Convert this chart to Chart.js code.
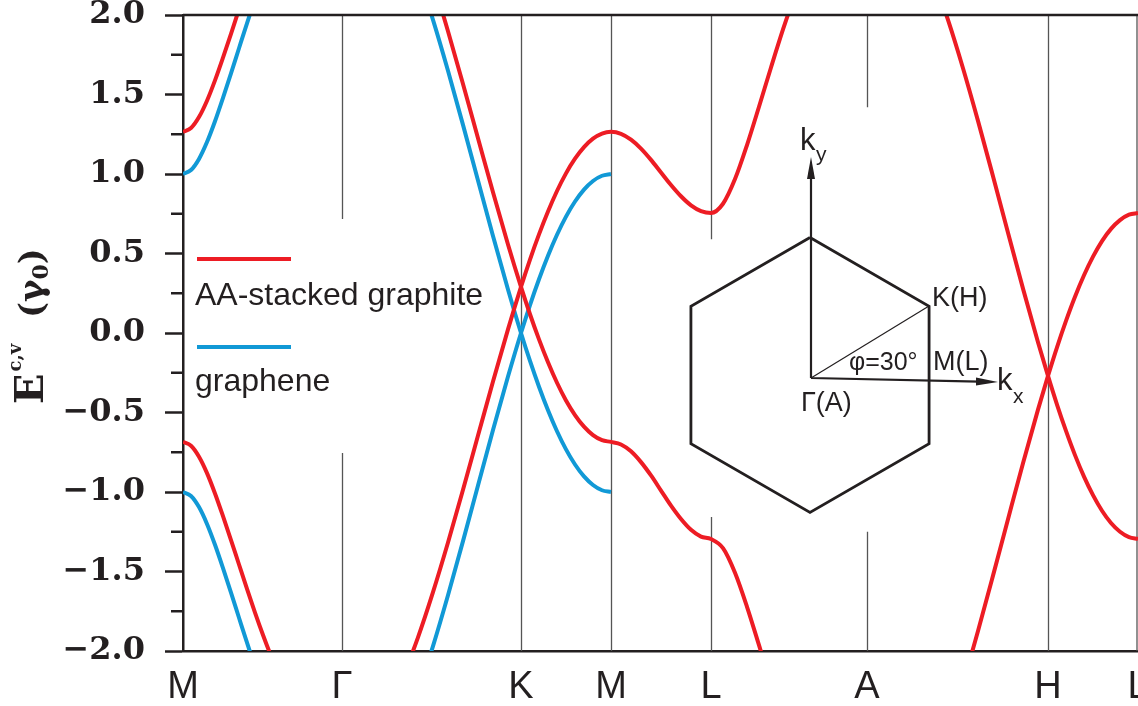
<!DOCTYPE html>
<html>
<head>
<meta charset="utf-8">
<script src="https://cdn.jsdelivr.net/npm/chart.js@4.4.0/dist/chart.umd.min.js"></script>
<style>
  html, body { margin: 0; padding: 0; background: #fff; }
  #wrap { width: 1138px; height: 706px; position: relative; }
</style>
</head>
<body>
<div id="wrap"><canvas id="bands"></canvas></div>
<script>
// high symmetry points along the path (x in path units, first M = 0)
const kNames = ['M', 'Γ', 'K', 'M', 'L', 'A', 'H', 'L'];
const kPos = [0, 159, 338, 428, 528, 684, 865, 955];
// open part of each vertical guide line [low, high] in energy, null = full line
const guideGaps = [null, [-0.755, 0.717], null, null, [-1.157, 0.59], [-1.25, 1.42], null, null];

// k samples of each path segment
const kMG = [0, 8, 16, 24, 32, 40, 48, 56, 64, 72, 80, 88, 96];
const kGK = [205, 220, 235, 250, 265, 280, 295, 310, 325, 338];
const kKM = [347, 356, 365, 374, 383, 392, 401, 410, 419, 428];
const kML = [438, 448, 458, 468, 478, 488, 498, 508, 518, 528];
const kLA = [540, 552, 564, 576, 588, 600, 612];
const kAH = [750, 765, 780, 795, 810, 825, 840, 855, 865];
const kHL = [874, 883, 892, 901, 910, 919, 928, 937, 946, 955];

// graphene (gamma0 units)
const grapheneUpMG = [1.000, 1.025, 1.095, 1.201, 1.332, 1.479, 1.633, 1.791, 1.948, 2.100, 2.245, 2.381, 2.506];
const grapheneDnMG = [-1.000, -1.025, -1.095, -1.201, -1.332, -1.479, -1.633, -1.791, -1.948, -2.100, -2.245, -2.381, -2.506];
const grapheneRiseGK = [-2.717, -2.512, -2.260, -1.969, -1.649, -1.309, -0.959, -0.610, -0.274, 0.000];
const grapheneFallGK = [2.717, 2.512, 2.260, 1.969, 1.649, 1.309, 0.959, 0.610, 0.274, 0.000];
const grapheneUpKM = [0.176, 0.338, 0.486, 0.618, 0.732, 0.827, 0.902, 0.956, 0.989, 1.000];
const grapheneDnKM = [-0.176, -0.338, -0.486, -0.618, -0.732, -0.827, -0.902, -0.956, -0.989, -1.000];

// AA-stacked graphite
const graphiteUpMG = [1.265, 1.289, 1.358, 1.461, 1.589, 1.732, 1.882, 2.036, 2.189, 2.338, 2.479, 2.611, 2.733];
const graphiteDnMG = [-0.685, -0.709, -0.778, -0.881, -1.009, -1.152, -1.302, -1.456, -1.609, -1.758, -1.899, -2.031, -2.153];
const graphiteRiseGK = [-2.359, -2.159, -1.914, -1.630, -1.318, -0.986, -0.645, -0.305, 0.023, 0.290];
const graphiteFallGK = [2.939, 2.739, 2.494, 2.210, 1.898, 1.566, 1.225, 0.885, 0.557, 0.290];
const graphiteUpKM = [0.462, 0.620, 0.764, 0.893, 1.004, 1.096, 1.169, 1.222, 1.254, 1.265];
const graphiteDnKM = [0.118, -0.040, -0.184, -0.313, -0.424, -0.516, -0.589, -0.642, -0.674, -0.685];
const graphiteUpML = [1.253, 1.216, 1.160, 1.089, 1.010, 0.931, 0.860, 0.803, 0.767, 0.755];
const graphiteDnML = [-0.701, -0.744, -0.812, -0.896, -0.991, -1.086, -1.170, -1.238, -1.281, -1.296];
const graphiteUpLA = [0.813, 0.968, 1.182, 1.423, 1.670, 1.909, 2.130];
const graphiteDnLA = [-1.353, -1.508, -1.722, -1.963, -2.210, -2.449, -2.670];
const graphiteFallAH = [2.236, 1.969, 1.665, 1.334, 0.986, 0.631, 0.279, -0.058, -0.270];
const graphiteRiseAH = [-2.776, -2.509, -2.205, -1.874, -1.526, -1.171, -0.819, -0.482, -0.270];
const graphiteUpHL = [-0.090, 0.076, 0.228, 0.363, 0.480, 0.578, 0.655, 0.710, 0.744, 0.755];
const graphiteDnHL = [-0.450, -0.616, -0.768, -0.903, -1.020, -1.118, -1.195, -1.250, -1.284, -1.295];

const RED = '#ed1c24';
const BLUE = '#1199d6';
const INK = '#231f20';

function pts(xs, ys) {
    return xs.map((x, i) => ({ x: x, y: ys[i] }));
}

function band(data, color) {
    return {
        data: data,
        borderColor: color,
        borderWidth: 4,
        pointRadius: 0,
        fill: false,
        cubicInterpolationMode: 'monotone',
        clip: 0
    };
}

const isMajor = v => Math.abs(v * 2 - Math.round(v * 2)) < 1e-6;

// ================================
//   DECORATION: guides, frame, title, legend, inset
// ================================
const decor = {
    id: 'decor',
    beforeDatasetsDraw(chart) {
        const ctx = chart.ctx;
        const { top, bottom, right } = chart.chartArea;
        const xs = chart.scales.x, ys = chart.scales.y;
        ctx.save();
        ctx.strokeStyle = '#555';
        ctx.lineWidth = 1.3;
        kPos.forEach((k, i) => {
            if (k === 0 || k === kPos[kPos.length - 1]) return;
            const x = Math.round(xs.getPixelForValue(k)) + 0.5;
            ctx.beginPath();
            if (guideGaps[i]) {
                ctx.moveTo(x, top);
                ctx.lineTo(x, ys.getPixelForValue(guideGaps[i][1]));
                ctx.moveTo(x, ys.getPixelForValue(guideGaps[i][0]));
                ctx.lineTo(x, bottom);
            } else {
                ctx.moveTo(x, top);
                ctx.lineTo(x, bottom);
            }
            ctx.stroke();
        });
        // right edge
        ctx.beginPath();
        ctx.moveTo(right - 1, top);
        ctx.lineTo(right - 1, bottom);
        ctx.stroke();
        ctx.restore();
    },
    afterDraw(chart) {
        const ctx = chart.ctx;
        const { top, left, right } = chart.chartArea;
        const ys = chart.scales.y;
        ctx.save();
        // top frame line
        ctx.strokeStyle = INK;
        ctx.lineWidth = 2.5;
        ctx.beginPath();
        ctx.moveTo(left, top);
        ctx.lineTo(right, top);
        ctx.stroke();
        // minor ticks
        ys.ticks.forEach(t => {
            if (isMajor(t.value)) return;
            const y = ys.getPixelForValue(t.value);
            ctx.beginPath();
            ctx.moveTo(left - 12, y);
            ctx.lineTo(left, y);
            ctx.stroke();
        });

        // y title
        ctx.fillStyle = INK;
        ctx.save();
        ctx.translate(43, 404);
        ctx.rotate(-Math.PI / 2);
        ctx.textBaseline = 'alphabetic';
        ctx.textAlign = 'left';
        ctx.font = 'bold 40px "DejaVu Serif"';
        ctx.fillText('E', 0, 0);
        const ew = ctx.measureText('E').width;
        ctx.font = 'bold 18px "DejaVu Serif"';
        ctx.fillText('c,v', ew + 2, -22);
        ctx.font = 'bold 34px "DejaVu Serif"';
        let px = 86;
        ctx.fillText('(', px, 0); px += ctx.measureText('(').width;
        ctx.fillText('γ', px, 0); px += ctx.measureText('γ').width;
        ctx.font = 'bold 22px "DejaVu Serif"';
        ctx.fillText('0', px, 5); px += ctx.measureText('0').width;
        ctx.font = 'bold 34px "DejaVu Serif"';
        ctx.fillText(')', px, 0);
        ctx.restore();

        // legend
        ctx.lineWidth = 4;
        ctx.strokeStyle = RED;
        ctx.beginPath(); ctx.moveTo(197, 259); ctx.lineTo(291, 259); ctx.stroke();
        ctx.strokeStyle = BLUE;
        ctx.beginPath(); ctx.moveTo(197, 347); ctx.lineTo(291, 347); ctx.stroke();
        ctx.font = '32px "Liberation Sans"';
        ctx.textAlign = 'left';
        ctx.fillText('AA-stacked graphite', 195, 305);
        ctx.fillText('graphene', 195, 391);

        // inset: hexagonal Brillouin zone
        const cx = 810, cy = 375, R = 137.5;
        ctx.strokeStyle = INK;
        ctx.lineWidth = 2.8;
        ctx.beginPath();
        for (let i = 0; i <= 6; i++) {
            const a = (90 - 60 * i) * Math.PI / 180;
            const vx = cx + R * Math.cos(a), vy = cy - R * Math.sin(a);
            if (i === 0) ctx.moveTo(vx, vy); else ctx.lineTo(vx, vy);
        }
        ctx.stroke();
        const ox = 811, oy = 378;
        ctx.lineWidth = 2.2;
        ctx.beginPath();
        ctx.moveTo(ox, oy); ctx.lineTo(ox, 176);
        ctx.moveTo(ox, oy); ctx.lineTo(979, 381.6);
        ctx.stroke();
        ctx.fillStyle = INK;
        ctx.beginPath();
        ctx.moveTo(ox, 157); ctx.lineTo(ox - 4, 179); ctx.lineTo(ox + 4, 179); ctx.closePath();
        ctx.fill();
        ctx.beginPath();
        ctx.moveTo(998, 382); ctx.lineTo(976, 377.6); ctx.lineTo(976, 385.6); ctx.closePath();
        ctx.fill();
        ctx.lineWidth = 1.2;
        ctx.beginPath();
        ctx.moveTo(ox, oy); ctx.lineTo(929, 306);
        ctx.stroke();

        ctx.font = '27px "Liberation Sans"';
        ctx.fillText('K(H)', 932, 306);
        ctx.fillText('M(L)', 933, 370);
        ctx.fillText('Γ(A)', 801, 411);
        ctx.font = '25px "Liberation Sans"';
        ctx.fillText('φ=30°', 849, 370);
        ctx.font = '31px "Liberation Sans"';
        ctx.fillText('k', 800, 150);
        ctx.fillText('k', 997, 390);
        ctx.font = '21px "Liberation Sans"';
        ctx.fillText('y', 816, 161);
        ctx.fillText('x', 1013, 403);
        ctx.restore();
    }
};

// ================================
//   CHART
// ================================
const datasets = [
    band(pts(kMG, graphiteUpMG), RED),
    band(pts(kMG, graphiteDnMG), RED),
    band([...pts(kGK, graphiteRiseGK), ...pts(kKM, graphiteUpKM), ...pts(kML, graphiteUpML), ...pts(kLA, graphiteUpLA)], RED),
    band([...pts(kGK, graphiteFallGK), ...pts(kKM, graphiteDnKM), ...pts(kML, graphiteDnML), ...pts(kLA, graphiteDnLA)], RED),
    band([...pts(kAH, graphiteFallAH), ...pts(kHL, graphiteDnHL)], RED),
    band([...pts(kAH, graphiteRiseAH), ...pts(kHL, graphiteUpHL)], RED),
    band(pts(kMG, grapheneUpMG), BLUE),
    band(pts(kMG, grapheneDnMG), BLUE),
    band([...pts(kGK, grapheneRiseGK), ...pts(kKM, grapheneUpKM)], BLUE),
    band([...pts(kGK, grapheneFallGK), ...pts(kKM, grapheneDnKM)], BLUE)
];

new Chart(document.getElementById('bands'), {
    type: 'line',
    data: { datasets: datasets },
    options: {
        responsive: true,
        maintainAspectRatio: false,
        animation: false,
        events: [],
        layout: { padding: { top: 15, right: 0, left: 0, bottom: 0 } },
        plugins: { legend: { display: false }, tooltip: { enabled: false } },
        scales: {
            x: {
                type: 'linear',
                min: kPos[0],
                max: kPos[kPos.length - 1],
                afterBuildTicks: s => { s.ticks = kPos.map(v => ({ value: v })); },
                afterFit: s => { s.height = 55; s.paddingLeft = 0; s.paddingRight = 0; },
                grid: { display: false, drawTicks: false },
                border: { display: true, color: INK, width: 2.5 },
                ticks: {
                    autoSkip: false,
                    maxRotation: 0,
                    minRotation: 0,
                    padding: 14,
                    color: INK,
                    font: { family: 'Liberation Sans', size: 38 },
                    callback: (v, i) => kNames[i]
                }
            },
            y: {
                min: -2,
                max: 2,
                afterFit: s => { s.width = 183; s.paddingTop = 0; s.paddingBottom = 0; },
                grid: {
                    drawOnChartArea: false,
                    tickLength: 18,
                    tickWidth: 2.5,
                    tickColor: c => isMajor(c.tick.value) ? INK : 'rgba(0,0,0,0)'
                },
                border: { display: true, color: INK, width: 2.5 },
                ticks: {
                    stepSize: 0.25,
                    autoSkip: false,
                    padding: 20,
                    color: INK,
                    font: { family: 'DejaVu Serif', size: 32, weight: 'bold' },
                    callback: v => isMajor(v) ? (v < 0 ? '\u2212' + Math.abs(v).toFixed(1) : v.toFixed(1)) : ''
                }
            }
        }
    },
    plugins: [decor]
});
</script>
</body>
</html>
